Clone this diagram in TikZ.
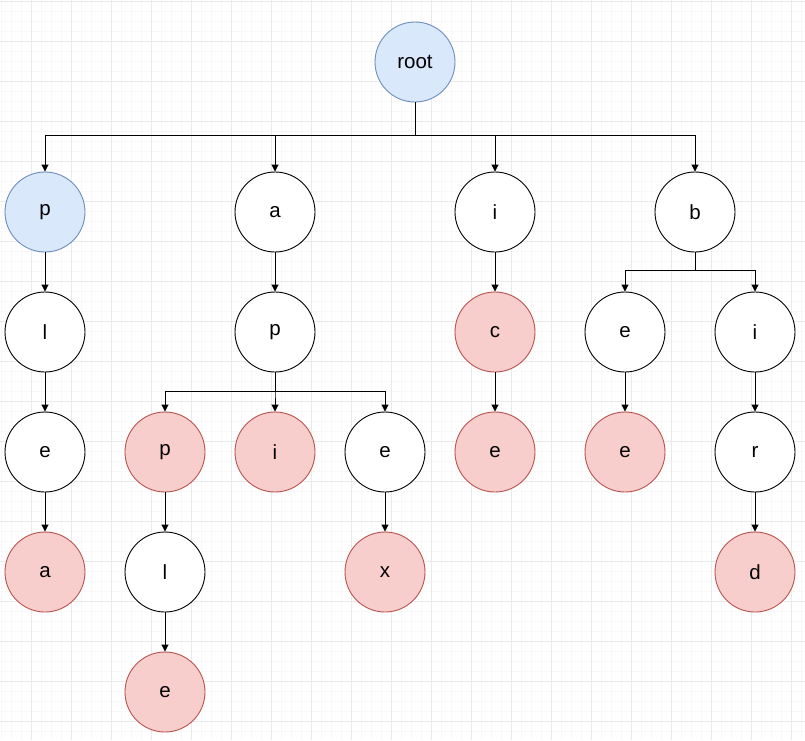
\documentclass[tikz,border=0pt]{standalone}
\usepackage{fontspec}
\setmainfont{Liberation Sans}
\usetikzlibrary{arrows.meta}
\definecolor{bluefill}{HTML}{DAE8FC}
\definecolor{blueline}{HTML}{6C8EBF}
\definecolor{redfill}{HTML}{F8CECC}
\definecolor{redline}{HTML}{B85450}
\definecolor{minorgrid}{HTML}{F8F8F8}
\definecolor{majorgrid}{HTML}{EAEAEA}

\begin{document}
\begin{tikzpicture}[x=1pt, y=-1pt,
    letter/.style={circle, draw=black, fill=white, minimum size=80pt, inner sep=0pt,
                   line width=0.9pt, font=\fontsize{20.5}{22}\selectfont},
    start/.style={letter, draw=blueline, fill=bluefill},
    leaf/.style={letter, draw=redline, fill=redfill},
    edge/.style={-{Triangle[length=7pt,width=7pt]}, line width=0.9pt}]

  \useasboundingbox (0,0) rectangle (805,740);
  \fill[white] (0,0) rectangle (805,740);

  % background grid
  \foreach \gx in {1,11,...,801}
    \draw[minorgrid, line width=0.6pt] (\gx,0) -- (\gx,740);
  \foreach \gy in {1,11,...,731}
    \draw[minorgrid, line width=0.6pt] (0,\gy) -- (805,\gy);
  \foreach \gx in {31,71,...,791}
    \draw[majorgrid, line width=0.6pt] (\gx,0) -- (\gx,740);
  \foreach \gy in {1,41,...,721}
    \draw[majorgrid, line width=0.6pt] (0,\gy) -- (805,\gy);

  % level 0 and 1
  \node[start] (root) at (415,62) {root};
  \node[start]  (p) at (45,212)  {p};
  \node[letter] (a) at (275,212) {a};
  \node[letter] (i) at (495,212) {i};
  \node[letter] (b) at (695,212) {b};

  % level 2
  \node[letter] (pl) at (45,332)  {l};
  \node[letter] (ap) at (275,332) {p};
  \node[leaf]   (ic) at (495,332) {c};
  \node[letter] (be) at (625,332) {e};
  \node[letter] (bi) at (755,332) {i};

  % level 3
  \node[letter] (ple) at (45,452)  {e};
  \node[leaf]   (app) at (165,452) {p};
  \node[leaf]   (api) at (275,452) {i};
  \node[letter] (ape) at (385,452) {e};
  \node[leaf]   (ice) at (495,452) {e};
  \node[leaf]   (bee) at (625,452) {e};
  \node[letter] (bir) at (755,452) {r};

  % level 4 and 5
  \node[leaf]   (plea) at (45,572)  {a};
  \node[letter] (appl) at (165,572) {l};
  \node[leaf]   (apex) at (385,572) {x};
  \node[leaf]   (bird) at (755,572) {d};
  \node[leaf]   (apple) at (165,692) {e};

  % branches
  \foreach \child in {p,a,i,b}
    \draw[edge] (root.south) -- ++(0,33) -| (\child.north);
  \foreach \child in {app,api,ape}
    \draw[edge] (ap.south) -- ++(0,19) -| (\child.north);
  \foreach \child in {be,bi}
    \draw[edge] (b.south) -- ++(0,18) -| (\child.north);

  % single chains
  \draw[edge] (p) -- (pl);
  \draw[edge] (pl) -- (ple);
  \draw[edge] (ple) -- (plea);
  \draw[edge] (a) -- (ap);
  \draw[edge] (app) -- (appl);
  \draw[edge] (appl) -- (apple);
  \draw[edge] (ape) -- (apex);
  \draw[edge] (i) -- (ic);
  \draw[edge] (ic) -- (ice);
  \draw[edge] (be) -- (bee);
  \draw[edge] (bi) -- (bir);
  \draw[edge] (bir) -- (bird);
\end{tikzpicture}
\end{document}
